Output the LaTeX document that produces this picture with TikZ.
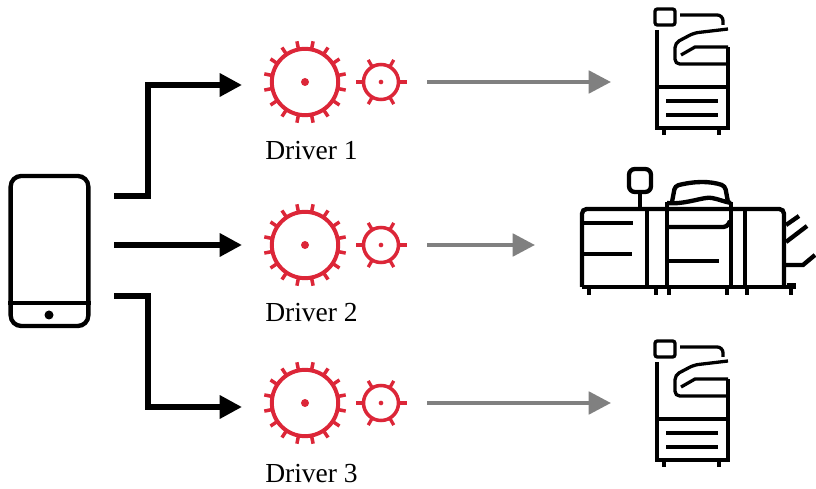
\documentclass[tikz,border=0pt]{standalone}
\usepackage{fontspec}
\setmainfont{Liberation Serif}
\usetikzlibrary{arrows.meta}
\definecolor{gearred}{RGB}{220,38,56}
\definecolor{flowgray}{RGB}{128,128,128}
\tikzset{
  blackflow/.style={line width=4.6pt,-{Triangle[length=19pt,width=19pt]}},
  grayflow/.style={flowgray,line width=3.6pt,-{Triangle[length=19pt,width=19pt]}},
  icon/.style={line width=3.7pt},
  thin icon/.style={line width=2.8pt},
  wheel/.style={circle,draw=gearred,inner sep=0pt},
  driverlabel/.style={font=\fontsize{23.5}{28}\selectfont},
  printer/.pic={
    \draw[thin icon,rounded corners=2pt] (655,9) rectangle (675,25);
    \draw[thin icon,rounded corners=5pt] (680,15)--(723,15)--(723,25);
    \draw[thin icon] (657,30)--(657,128)--(728,128)--(728,47);
    \draw[thin icon] (657,87)--(728,87);
    \draw[thin icon] (666,101)--(718,101);
    \draw[thin icon] (666,115)--(718,115);
    \draw[thin icon] (664,128)--(664,135);
    \draw[thin icon] (719,128)--(719,135);
    \draw[thin icon,rounded corners=4pt] (728,29)--(694,33)--(675,43)--(675,64)--(728,64);
    \draw[thin icon] (728,47)--(695,47)--(681,55);
  },
  bigwheel/.pic={
    \foreach \a in {0,...,15}
      \draw[gearred,line width=3pt] ({11.25+22.5*\a}:33) -- ({11.25+22.5*\a}:41.5);
  },
  smallwheel/.pic={
    \foreach \a in {0,...,5}
      \draw[gearred,line width=2.8pt] ({60*\a}:17) -- ({60*\a}:25.5);
  }
}
\begin{document}
\begin{tikzpicture}[x=0.03cm,y=-0.03cm]
  \useasboundingbox (0,0) rectangle (816,489);
  % phone
  \node[draw,icon,rounded corners=9pt,minimum width=2.33cm,minimum height=4.5cm,inner sep=0pt] (phone) at (49.5,251) {};
  \draw[icon] (phone.west |- 0,303) -- (phone.east |- 0,303);
  \node[circle,fill=black,minimum size=0.27cm,inner sep=0pt] (phonebutton) at (49,315) {};
  % drivers
  \foreach \y/\n/\t in {82/1/151,245/2/313,403/3/474}{
    \pic at (305,\y) {bigwheel};
    \pic at (381,\y) {smallwheel};
    \node[wheel,line width=3.4pt,minimum size=1.99cm] (big\n) at (305,\y) {};
    \node[wheel,line width=3pt,minimum size=1.05cm] (small\n) at (381,\y) {};
    \node[circle,fill=gearred,minimum size=0.24cm,inner sep=0pt] (bighub\n) at (305,\y) {};
    \node[circle,fill=gearred,minimum size=0.14cm,inner sep=0pt] (smallhub\n) at (381,\y) {};
    \node[driverlabel] (label\n) at (311.5,\t) {Driver \n};
  }
  % flows
  \coordinate (outa) at (114,196);
  \coordinate (outb) at (114,245);
  \coordinate (outc) at (114,296);
  \coordinate (ina) at (242,85);
  \coordinate (inb) at (242,245);
  \coordinate (inc) at (242,407);
  \draw[blackflow] (outa)--(148,196)--(148,85)--(ina);
  \draw[blackflow] (outb)--(inb);
  \draw[blackflow] (outc)--(148,296)--(148,407)--(inc);
  \coordinate (froma) at (427,82);
  \coordinate (fromb) at (427,245);
  \coordinate (fromc) at (427,403);
  \coordinate (toa) at (611,82);
  \coordinate (tob) at (535,245);
  \coordinate (toc) at (611,403);
  \draw[grayflow] (froma)--(toa);
  \draw[grayflow] (fromb)--(tob);
  \draw[grayflow] (fromc)--(toc);
  % printers
  \pic at (0,0) {printer};
  \pic at (0,332) {printer};
  % production press
  \draw[icon,rounded corners=5pt] (629,169)--(651,169)--(651,192)--(629,192)--cycle;
  \draw[icon] (640,192)--(640,209);
  \draw[icon,rounded corners=4pt] (582,287)--(582,209)--(784,209)--(784,287);
  \draw[icon] (582,287)--(793,287);
  \draw[line width=5pt] (787,286)--(796,286);
  \draw[line width=4.2pt] (647,209)--(647,287);
  \draw[icon] (667,202)--(667,287);
  \draw[icon] (731,202)--(731,287);
  \draw[icon] (745,210)--(745,287);
  \draw[icon] (584,223)--(633,223);
  \draw[icon] (584,254)--(632,254);
  \draw[icon,rounded corners=3pt] (668,227)--(727,227)--(730,221);
  \draw[icon] (668,261)--(719,261);
  \draw[icon] (667,203) .. controls (685,205) and (705,196) .. (712,198) .. controls (718,199) and (725,202) .. (731,203);
  \draw[icon,rounded corners=3pt] (672,202)--(675,186) .. controls (695,181) and (710,181) .. (725,186)--(728,202);
  \foreach \x in {589,656,669,727,747,791}
    \draw[icon] (\x,287)--(\x,295);
  \draw[icon] (786,225)--(799,216);
  \draw[icon] (786,242)--(807,226);
  \draw[icon] (786,265)--(803,265)--(815,255);
\end{tikzpicture}
\end{document}
